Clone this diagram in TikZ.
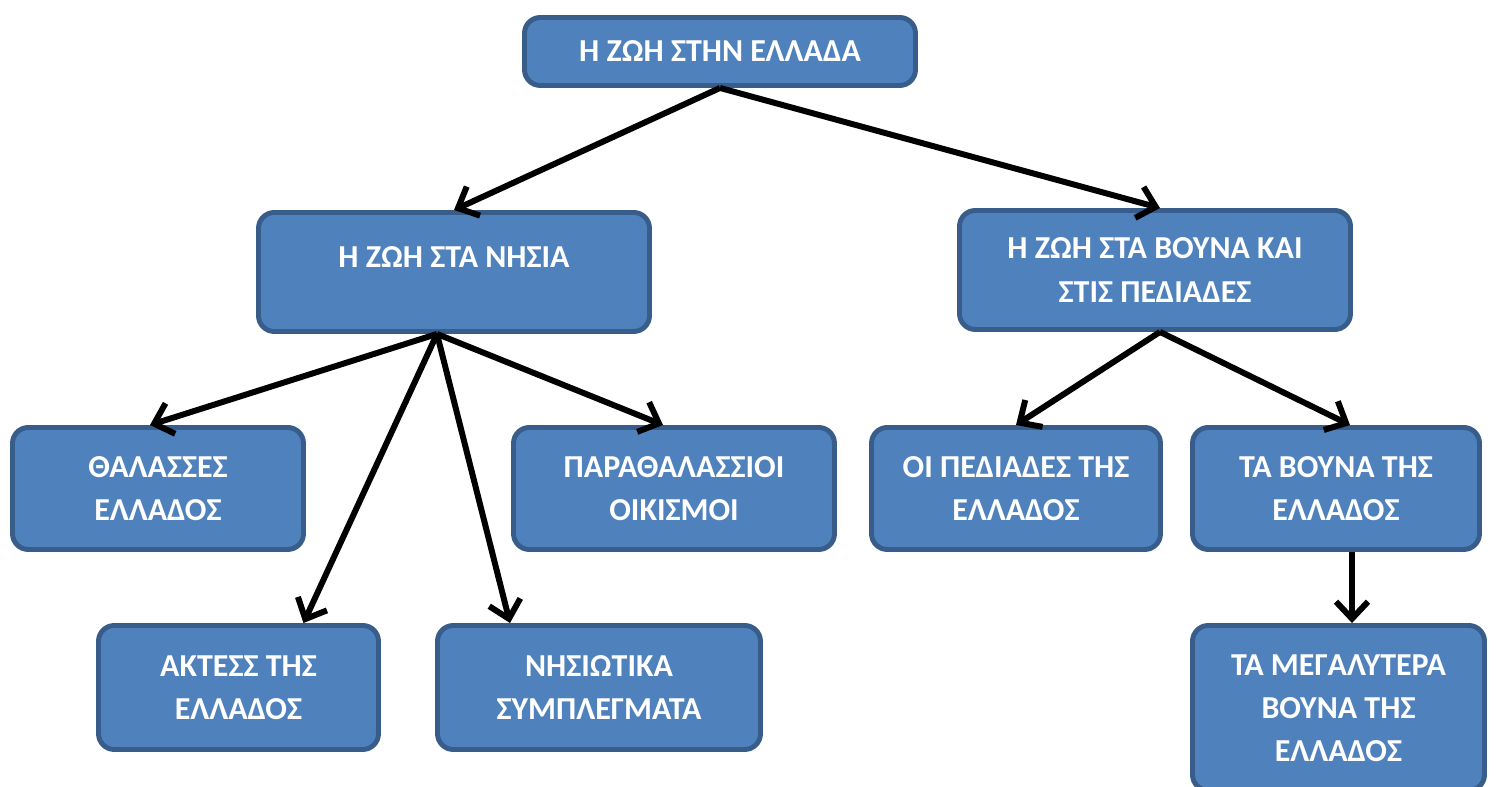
\documentclass[tikz,border=0pt]{standalone}
\usepackage{fontspec}
\setmainfont{Carlito}
\usepackage{xcolor}
\usepackage{tikz}
\usetikzlibrary{arrows.meta,positioning}
\definecolor{boxfill}{RGB}{79,129,189}
\definecolor{boxline}{RGB}{56,93,138}
\begin{document}
\begin{tikzpicture}[
  box/.style={draw=boxline, line width=2.8pt, rounded corners=9pt, fill=boxfill, align=center,
              text=white, font=\fontsize{18.2}{24.5}\selectfont\bfseries, inner sep=0pt},
  arr/.style={-{Straight Barb[length=3.4mm,width=6.4mm]}, line width=3.4pt, black}]
\useasboundingbox (0,0) rectangle (29.92,15.74);
\node[box, minimum width=7.82cm, minimum height=1.36cm] (zoi) at (14.40,14.71) {Η ΖΩΗ ΣΤΗΝ ΕΛΛΑΔΑ};
\node[box, minimum width=7.82cm, minimum height=2.38cm, text depth=0.6cm] (nisia) at (9.08,10.30) {Η ΖΩΗ ΣΤΑ ΝΗΣΙΑ};
\node[box, minimum width=7.82cm, minimum height=2.38cm] (vouna) at (23.10,10.34) {Η ΖΩΗ ΣΤΑ ΒΟΥΝΑ ΚΑΙ\\ ΣΤΙΣ ΠΕΔΙΑΔΕΣ};
\node[box, minimum width=5.82cm, minimum height=2.44cm] (thal) at (3.16,5.97) {ΘΑΛΑΣΣΕΣ\\ ΕΛΛΑΔΟΣ};
\node[box, minimum width=6.42cm, minimum height=2.44cm] (parathal) at (13.48,5.97) {ΠΑΡΑΘΑΛΑΣΣΙΟΙ\\ ΟΙΚΙΣΜΟΙ};
\node[box, minimum width=5.78cm, minimum height=2.44cm] (pediades) at (20.32,5.97) {ΟΙ ΠΕΔΙΑΔΕΣ ΤΗΣ\\ ΕΛΛΑΔΟΣ};
\node[box, minimum width=5.74cm, minimum height=2.44cm] (vounatis) at (26.72,5.97) {ΤΑ ΒΟΥΝΑ ΤΗΣ\\ ΕΛΛΑΔΟΣ};
\node[box, minimum width=5.60cm, minimum height=2.48cm] (aktes) at (4.77,1.99) {ΑΚΤΕΣΣ ΤΗΣ\\ ΕΛΛΑΔΟΣ};
\node[box, minimum width=6.46cm, minimum height=2.48cm] (nisiotika) at (11.98,1.99) {ΝΗΣΙΩΤΙΚΑ\\ ΣΥΜΠΛΕΓΜΑΤΑ};
\node[box, minimum width=5.84cm, minimum height=3.30cm] (megala) at (26.77,1.58) {ΤΑ ΜΕΓΑΛΥΤΕΡΑ\\ ΒΟΥΝΑ ΤΗΣ\\ ΕΛΛΑΔΟΣ};
% connector ends
\coordinate (nisiafoot) at ([xshift=-0.34cm]nisia.south);
\coordinate (vounafoot) at ([xshift=0.10cm]vouna.south);
\coordinate (vounatisfoot) at ([xshift=0.32cm]vounatis.south);
\draw[arr] (zoi.south) -- (nisia.north);
\draw[arr] (zoi.south) -- ([xshift=0.10cm]vouna.north);
\draw[arr] (nisiafoot) -- ([xshift=-0.16cm]thal.north);
\draw[arr] (nisiafoot) -- ([xshift=-0.22cm]parathal.north);
\draw[arr] (nisiafoot) -- ([xshift=1.30cm]aktes.north);
\draw[arr] (nisiafoot) -- ([xshift=-1.78cm]nisiotika.north);
\draw[arr] (vounafoot) -- (pediades.north);
\draw[arr] (vounafoot) -- ([xshift=0.28cm]vounatis.north);
\draw[arr] (vounatisfoot) -- (vounatisfoot |- megala.north);
\end{tikzpicture}
\end{document}
